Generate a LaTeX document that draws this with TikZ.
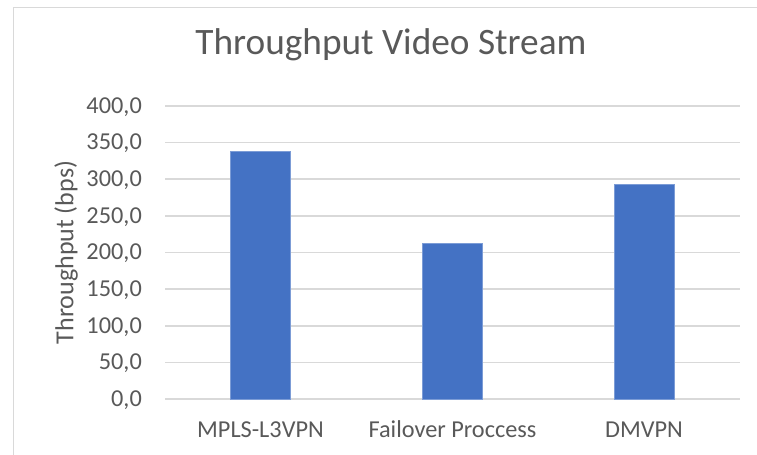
\documentclass[tikz,border=0pt]{standalone}
\usepackage{fontspec}
\setmainfont{Carlito}
\definecolor{txtgrey}{HTML}{595959}
\definecolor{gridgrey}{HTML}{D9D9D9}
\definecolor{barblue}{HTML}{4472C4}
\tikzset{
  ticklbl/.style={anchor=east, text=txtgrey, inner sep=0pt, font=\fontsize{24.3bp}{28bp}\selectfont},
  catlbl/.style={anchor=base, text=txtgrey, inner sep=0pt, font=\fontsize{24.3bp}{28bp}\selectfont},
  gridln/.style={draw=gridgrey, line width=1.6bp},
  bar/.style={fill=barblue, draw=barblue!70!white, line width=0.6bp}
}
\begin{document}
\begin{tikzpicture}[x=1bp, y=-1bp]
  \useasboundingbox (0,0) rectangle (757,455);
  % chart frame (only top and left edges fall inside the page)
  \draw[draw=gridgrey, line width=1.5bp] (13.5,460) -- (13.5,7.5) -- (770,7.5);
  % title
  \node[anchor=base, text=txtgrey, inner sep=0pt, font=\fontsize{37.3bp}{44bp}\selectfont] (title) at (391,55) {Throughput Video Stream};
  % y axis title
  \node[rotate=90, text=txtgrey, inner sep=0pt, font=\fontsize{26bp}{30bp}\selectfont] (ytitle) at (66,252.5) {Throughput (bps)};
  % gridlines and tick labels: 0 at y=399, 50 units = 36.6
  \foreach \v/\l [count=\i] in {0/{0,0},50/{50,0},100/{100,0},150/{150,0},200/{200,0},250/{250,0},300/{300,0},350/{350,0},400/{400,0}} {
    \draw[gridln] (165,399-\v*0.7325) -- (740,399-\v*0.7325);
    \node[ticklbl] (tick\i) at (142,399-\v*0.7325+1) {\l};
  }
  % bars
  \filldraw[bar] (230.5,399) rectangle (290.5,399-338.7*0.7325);
  \filldraw[bar] (422.5,399) rectangle (482.5,399-212.6*0.7325);
  \filldraw[bar] (614,399) rectangle (674,399-293.4*0.7325);
  % category labels
  \node[catlbl] (c1) at (260.5,437) {MPLS-L3VPN};
  \node[catlbl] (c2) at (452.5,437) {Failover Proccess};
  \node[catlbl] (c3) at (644,437) {DMVPN};
\end{tikzpicture}
\end{document}
